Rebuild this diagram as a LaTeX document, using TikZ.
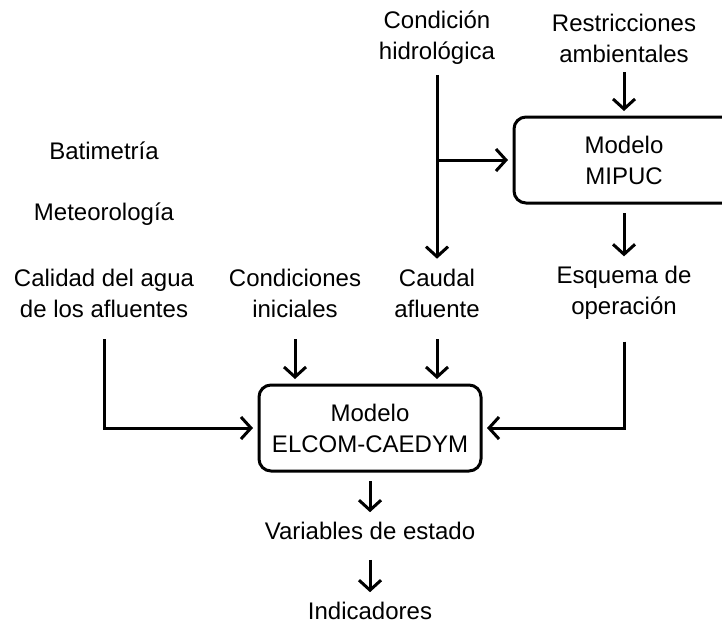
\documentclass[tikz,border=0pt]{standalone}
\usepackage{fontspec}
\setmainfont{Liberation Sans}
\usetikzlibrary{arrows.meta}

\begin{document}
\begin{tikzpicture}[x=0.5pt,y=-0.5pt,
  txt/.style={font=\fontsize{12}{15.5}\selectfont,align=center,inner sep=0pt,outer sep=5pt},
  modelbox/.style={draw,line width=1.5pt,rounded corners=6pt,minimum height=43pt,outer sep=3pt},
  arr/.style={line width=1.5pt,-{Straight Barb[length=5pt,width=11pt]}}]
\useasboundingbox (0,0) rectangle (722,623);
\begin{scope}
\clip (0,0) rectangle (722,623);
% MIPUC model (runs past the right edge)
\node[modelbox,minimum width=200pt,anchor=west] (mipuc) at (508,160) {};
\end{scope}
% top inputs
\node[txt] (cond) at (437,38) {Condición\\hidrológica};
\node[txt] (restr) at (624,38) {Restricciones\\ambientales};
\node[txt] (mipuctxt) at (624,160) {Modelo\\MIPUC};
% left inputs
\node[txt] (bati) at (104,151) {Batimetría};
\node[txt] (meteo) at (104,214) {Meteorología};
% middle row
\node[txt] (calidad) at (104,293) {Calidad del agua\\de los afluentes};
\node[txt] (inic) at (295,293) {Condiciones\\iniciales};
\node[txt] (caudal) at (437,293) {Caudal\\afluente};
\node[txt] (esquema) at (624,293) {Esquema de\\operación};
% ELCOM-CAEDYM model
\node[modelbox,txt,draw,minimum width=111pt,outer sep=3pt] (elcom) at (370,428) {Modelo\\ELCOM-CAEDYM};
% outputs
\node[txt] (vars) at (370,531) {Variables de estado};
\node[txt] (ind) at (370,611) {Indicadores};
% connectors
\draw[arr] (cond) -- (caudal);
\draw[arr] (cond.south |- mipuc.west) -- (mipuc.west);
\draw[arr] (restr) -- (restr |- mipuc.north);
\draw[arr,shorten <=2pt] (esquema |- mipuc.south) -- (esquema);
\draw[arr,shorten <=6pt] (calidad.south) |- (elcom.west);
\draw[arr,shorten <=6pt] (esquema.south) |- (elcom.east);
\draw[arr,shorten <=6pt] (inic.south) -- (inic.south |- elcom.north);
\draw[arr,shorten <=6pt] (caudal.south) -- (caudal.south |- elcom.north);
\draw[arr,shorten <=2pt] (elcom) -- (vars);
\draw[arr,shorten <=5pt] (vars) -- (ind);
\end{tikzpicture}
\end{document}
